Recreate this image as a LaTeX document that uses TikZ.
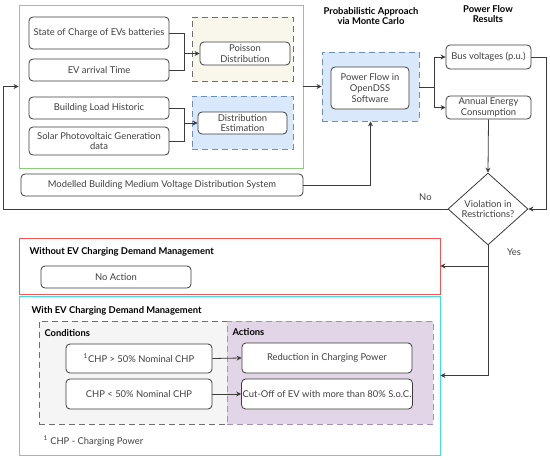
\documentclass[tikz,border=0pt]{standalone}
\usepackage{fontspec}
\setmainfont{Lato}
\usepackage{xcolor}
\usetikzlibrary{arrows.meta,positioning,shapes.geometric,calc}

\definecolor{boxline}{RGB}{60,60,60}
\definecolor{greenline}{RGB}{140,205,125}
\definecolor{beigefill}{RGB}{249,246,236}
\definecolor{bluefill}{RGB}{218,232,252}
\definecolor{blueline}{RGB}{108,142,191}
\definecolor{redline}{RGB}{245,85,85}
\definecolor{cyanline}{RGB}{60,225,225}
\definecolor{grayfill}{RGB}{245,245,245}
\definecolor{grayline}{RGB}{110,110,110}
\definecolor{purplefill}{RGB}{225,213,231}
\definecolor{purpleline}{RGB}{170,140,190}

\begin{document}
\begin{tikzpicture}[x=1pt, y=-1pt,
  font=\fontsize{9.4}{10.6}\selectfont,
  stepbox/.style={draw=boxline, thick, rounded corners=4pt, fill=white, align=center,
    inner sep=1pt, text=black!75},
  region/.style={dash pattern=on 6pt off 4pt, thick, minimum width=#1},
  frame/.style={draw, thick, inner sep=0pt},
  title/.style={font=\fontsize{9.4}{10.6}\selectfont\bfseries, align=center},
  arr/.style={-{Stealth[length=5pt,width=5pt]}, thick, draw=boxline},
  line/.style={thick, draw=boxline},
]
\useasboundingbox (0,0) rectangle (550,460);

% ===== Inputs =====
\node[frame, draw=greenline, minimum width=284, minimum height=163] (inputs) at (161,86.5) {};
\node[region=101, draw=grayline, fill=beigefill, minimum height=64] (poisreg) at (242.5,49) {};
\node[region=101, draw=blueline, fill=bluefill, minimum height=53] (distreg) at (242.5,122.5) {};

\node[stepbox, minimum width=140, minimum height=32] (soc) at (99,33) {State of Charge of EVs batteries};
\node[stepbox, minimum width=140, minimum height=22] (arrival) at (99,70) {EV arrival Time};
\node[stepbox, minimum width=90, minimum height=23] (poisson) at (245,53.5) {Poisson\\Distribution};
\node[stepbox, minimum width=140, minimum height=22] (load) at (99,108) {Building Load Historic};
\node[stepbox, minimum width=140, minimum height=28] (solar) at (99,141) {Solar Photovoltaic Generation\\data};
\node[stepbox, minimum width=89, minimum height=22] (distest) at (242.5,123) {Distribution\\Estimation};
\node[stepbox, minimum width=282, minimum height=22] (model) at (162,185) {Modelled Building Medium Voltage Distribution System};

\coordinate (j1) at (184,53.5);
\coordinate (j2) at (184,123);
\draw[line] (soc.east) -| (j1);
\draw[line] (arrival.east) -| (j1);
\draw[arr] (j1) -- (poisson.west);
\draw[line] (load.east) -| (j2);
\draw[line] (solar.east) -| (j2);
\draw[arr] (j2) -- (distest.west);

% ===== Monte Carlo =====
\node[title] (mctitle) at (371,16) {Probabilistic Approach\\via Monte Carlo};
\node[region=97, draw=blueline, fill=bluefill, minimum height=69] (pfreg) at (370.5,86.5) {};
\node[stepbox, minimum width=78, minimum height=42] (pflow) at (370,88) {Power Flow in\\OpenDSS\\Software};

\draw[arr] (inputs.east |- pfreg.west) -- (pfreg.west);
\draw[arr] (model.east) -| (pfreg.south);

% ===== Results =====
\node[title] (restitle) at (488,14) {Power Flow\\Results};
\node[stepbox, minimum width=85, minimum height=24] (bus) at (488.5,57) {Bus voltages (p.u.)};
\node[stepbox, minimum width=85, minimum height=23] (energy) at (488.5,107.5) {Annual Energy\\Consumption};
\node[diamond, draw=boxline, thick, fill=white, aspect=1.1, inner sep=0pt,
  minimum width=80, minimum height=72, align=center, text=black!75] (viol) at (488,209) {Violation in\\Restrictions?};

\coordinate (j3) at (434,87);
\draw[line] (pfreg.east |- j3) -- (j3);
\draw[arr] (j3) |- (bus.west);
\draw[arr] (j3) |- (energy.west);
\draw[arr] (bus.east) -- ++(15,0) |- (viol.east);
\draw[arr] (energy.south) -- (viol.north);
\draw[arr] (viol.west) -- ++(-444,0) node[pos=0.05, above=5pt, text=black!75] (no) {No} |- (inputs.west);

% ===== Demand management =====
\node[frame, draw=redline, minimum width=421, minimum height=56] (without) at (229.5,266) {};
\node[title, anchor=west] (wotitle) at (26,252) {Without EV Charging Demand Management};
\node[stepbox, minimum width=150, minimum height=22] (noaction) at (116,277) {No Action};

\node[frame, draw=cyanline, minimum width=421, minimum height=159] (withm) at (229.5,375.5) {};
\node[title, anchor=west] (wtitle) at (28,311) {With EV Charging Demand Management};
\node[region=188, draw=grayline, fill=grayfill, minimum height=103] (condreg) at (133,372.5) {};
\node[region=206, draw=purpleline, fill=purplefill, minimum height=103] (actreg) at (330,372.5) {};
\node[title, anchor=west] (condtitle) at (41,333) {Conditions};
\node[title, anchor=west] (acttitle) at (229,332) {Actions};

\node[stepbox, minimum width=146, minimum height=29] (chpup) at (139,358.5) {\textsuperscript{1}CHP > 50\% Nominal CHP};
\node[stepbox, minimum width=146, minimum height=30] (chplow) at (139,394) {CHP < 50\% Nominal CHP};
\node[stepbox, minimum width=170, minimum height=30] (reduce) at (327,358) {Reduction in Charging Power};
\node[stepbox, minimum width=170, minimum height=30] (cutoff) at (327,394) {Cut-Off of EV with more than 80\% S.o.C.};
\node[anchor=west, text=black!75] (foot) at (40,441) {\textsuperscript{1} CHP - Charging Power};

\draw[arr] (chpup.east) -- (reduce.west);
\draw[arr] (chplow.east) -- (cutoff.west);

\draw[arr] (viol.south) |- (withm.east);
\draw[arr] (viol.south |- without.east) -- (without.east);
\node[text=black!75] (yes) at (514,252) {Yes};

\end{tikzpicture}
\end{document}
